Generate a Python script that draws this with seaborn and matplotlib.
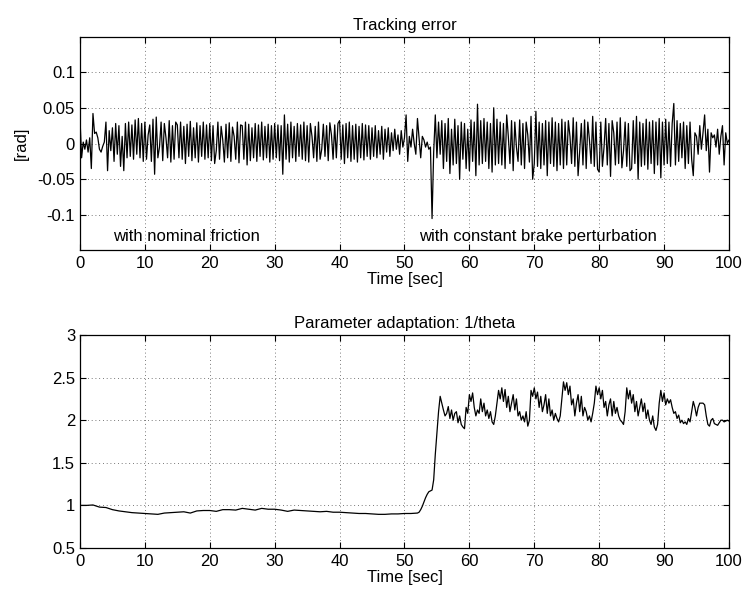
import numpy as np
import pandas as pd
import matplotlib
matplotlib.use("Agg")
import matplotlib.pyplot as plt
import seaborn as sns

# ---------------- data ----------------
# Tracking error, sampled every 0.25 s from 0 to 100 s, values in mrad
error_step = 0.25
error_mrad = [
    35, -20, 2, -8, 5, -12, 8, -35, 42, 14, 16, 8, -8, -12, -4, 2, 30, -38, 18, -10,
    22, -25, 28, -15, 25, -32, 10, -38, 28, -20, 30, -18, 26, -22, 33, -15, 35, -20, 28, -25,
    30, -22, 12, 26, -25, 34, -43, 37, -20, -5, 30, -24, 28, 8, -20, 32, -26, 25, -22, 30,
    26, -20, 30, -22, 24, -28, 27, -18, 31, -24, 22, -20, 29, -26, 25, -18, 30, -22, 26, -20,
    28, -24, 25, -28, -10, 30, -22, 24, 5, -26, 27, -20, 29, -25, 23, 10, -22, 30, -27, 26,
    25, -22, 30, -30, 27, -24, 22, -20, 28, -25, 26, -18, 30, -23, 24, -20, 27, -26, 25, -22,
    28, -20, 26, -24, 25, -43, 40, -22, 27, -26, 30, -20, 24, -25, 28, -18, 26, -22, 30, -24,
    25, -26, 28, 10, -20, 24, -25, 30, -22, -8, 27, -18, 25, -24, 29, 12, -22, 26, -20, 28,
    32, -22, 26, -28, 28, -20, 30, -25, 25, -22, 27, -26, 24, -20, 28, -23, 26, -18, 25, -22,
    22, -18, 25, -20, 18, -15, 24, -22, 20, -12, 22, -18, 15, -10, 20, -8, 12, -15, 18, -5,
    8, 40, -25, 10, -5, 20, 0, -15, 35, 8, -20, 10, 5, -5, 2, -8, -5, -105, -12, 40,
    -20, 30, -15, 32, -35, 28, -25, 35, -42, 20, -30, 34, -28, 25, -50, 30, -22, 28, -35, 20,
    -38, 33, -25, 30, -45, 55, -30, 32, -28, 35, -25, 30, -35, 28, -40, 50, -30, 34, -28, 30,
    -30, 28, -35, 40, 10, -28, 32, -38, 30, -5, -25, 33, -30, 28, -35, 30, 12, -26, 38, -50,
    -28, 45, -32, 30, -35, 28, -30, 32, -45, 30, -28, 36, -32, 30, -38, 28, -30, 34, -35, 30,
    -30, 32, 10, -28, 36, -32, 30, -45, -10, 28, -30, 33, -35, 30, 5, -28, 38, -32, 30, -36,
    -40, 30, -32, -5, 35, -30, 28, -46, 32, 15, -30, 30, -28, 36, -34, -10, 30, -32, 28, -38,
    -35, 32, -28, 38, -50, 30, -32, 28, -30, 34, -36, 30, -28, 32, -42, 30, -30, 35, -48, 30,
    -30, 34, -28, 30, -32, 28, 56, -30, 32, -25, 28, -20, 30, -35, 25, -28, 30, -22, -45, 15,
    10, -15, 25, -8, 15, 40, -10, 20, -40, 15, 8, 12, -5, 20, -15, 10, 25, -30, 15, 0,
    5,
]

# Parameter adaptation 1/theta: 1 s samples from 0 to 51 s ...
theta_slow = [
    1.00, 1.00, 1.005, 0.98, 0.975, 0.95, 0.935, 0.925, 0.915, 0.91,
    0.905, 0.90, 0.895, 0.91, 0.915, 0.92, 0.925, 0.91, 0.935, 0.94,
    0.94, 0.93, 0.95, 0.95, 0.945, 0.965, 0.955, 0.945, 0.965, 0.955,
    0.955, 0.945, 0.93, 0.945, 0.94, 0.935, 0.93, 0.925, 0.93, 0.92,
    0.92, 0.915, 0.91, 0.905, 0.905, 0.90, 0.895, 0.895, 0.90, 0.90,
    0.905, 0.905,
]
# ... then 0.25 s samples from 52 s to 100 s
theta_fast = [
    0.91, 0.92, 0.95, 0.99,
    1.04, 1.09, 1.13, 1.16,
    1.17, 1.18, 1.30, 1.60,
    1.85, 2.10, 2.28, 2.20,
    2.12, 2.05, 2.08, 2.16,
    2.02, 2.12, 2.00, 2.08,
    2.10, 1.97, 2.05, 1.95,
    1.92, 1.90, 2.15, 2.08,
    2.30, 2.22, 2.32, 2.15,
    2.05, 2.12, 2.08, 2.25,
    2.10, 2.20, 2.05, 2.12,
    2.02, 2.10, 1.98, 1.95,
    2.05, 2.20, 2.35, 2.25,
    2.38, 2.22, 2.36, 2.15,
    2.28, 2.10, 2.20, 2.30,
    2.12, 2.25, 2.05, 2.10,
    2.00, 2.05, 1.98, 2.10,
    1.93, 2.00, 2.35, 2.28,
    2.38, 2.25, 2.33, 2.15,
    2.28, 2.10, 2.18, 2.30,
    2.08, 2.25, 2.05, 2.12,
    2.00, 2.08, 2.02, 1.98,
    2.05, 2.25, 2.45, 2.35,
    2.44, 2.30, 2.40, 2.18,
    2.25, 2.05, 2.20, 2.30,
    2.10, 2.28, 2.05, 2.15,
    2.10, 2.00, 2.05, 1.98,
    2.08, 2.20, 2.40, 2.30,
    2.38, 2.25, 2.35, 2.15,
    2.22, 2.05, 2.18, 2.25,
    2.05, 2.22, 2.08, 2.15,
    2.05, 2.00, 1.98, 1.95,
    2.10, 2.38, 2.25, 2.35,
    2.20, 2.30, 2.10, 2.22,
    2.05, 2.15, 2.25, 2.10,
    2.20, 2.02, 2.12, 2.00,
    1.95, 2.05, 1.92, 1.88,
    1.95, 2.20, 2.35, 2.22,
    2.32, 2.18, 2.25, 2.20,
    2.24, 2.15, 2.08, 2.10,
    2.02, 2.06, 1.97, 2.00,
    1.96, 1.98, 1.95, 2.02,
    1.98, 2.10, 2.22, 2.15,
    2.05, 2.15, 2.20, 2.20,
    2.20, 2.18, 2.05, 1.95,
    1.93, 2.00, 2.02, 1.96,
    1.95, 1.94, 1.97, 2.00,
    2.00, 1.98, 1.99, 2.00,
    1.99,
]

x_ticks = [0, 10, 20, 30, 40, 50, 60, 70, 80, 90, 100]
top_yticks = [-0.1, -0.05, 0, 0.05, 0.1]
top_yticklabels = ["-0.1", "-0.05", "0", "0.05", "0.1"]
bot_yticks = [0.5, 1, 1.5, 2, 2.5, 3]
bot_yticklabels = ["0.5", "1", "1.5", "2", "2.5", "3"]

top_title = "Tracking error"
bot_title = "Parameter adaptation: 1/theta"
x_label = "Time [sec]"
top_ylabel = "[rad]"
note_left = "with nominal friction"
note_right = "with constant brake perturbation"

# ---------------- tables ----------------
err_df = pd.DataFrame({
    "t": np.arange(len(error_mrad)) * error_step,
    "e": np.array(error_mrad, dtype=float) * 1e-3,
})
theta_t = np.concatenate([np.arange(len(theta_slow)) * 1.0,
                          len(theta_slow) + np.arange(len(theta_fast)) * 0.25])
theta_df = pd.DataFrame({"t": theta_t, "v": theta_slow + theta_fast})

# ---------------- style ----------------
sns.set_theme(style="white")
plt.rcParams["font.family"] = ["Liberation Sans", "DejaVu Sans"]
plt.rcParams["font.size"] = 12
for key in ["text.color", "axes.labelcolor", "xtick.color", "ytick.color",
            "axes.edgecolor"]:
    plt.rcParams[key] = "black"

fig = plt.figure(figsize=(7.44, 5.95), dpi=100)
ax1 = fig.add_axes([0.1075, 0.5798, 0.8723, 0.358])
ax2 = fig.add_axes([0.1075, 0.0790, 0.8723, 0.358])


def style_axes(ax):
    for s in ax.spines.values():
        s.set_color("black")
        s.set_linewidth(0.9)
        s.set_visible(True)
    ax.tick_params(axis="both", direction="in", length=4, width=0.8,
                   colors="black", labelcolor="black", top=True, right=True,
                   labelsize=12, bottom=True, left=True)
    ax.tick_params(axis="x", pad=4)
    ax.tick_params(axis="y", pad=3.5)
    ax.grid(True, color="0.3", linestyle=(0, (1, 3.5)), linewidth=0.6)
    ax.set_axisbelow(True)
    ax.set_xlim(0, 100)
    ax.set_xticks(x_ticks)
    ax.set_xticklabels([str(v) for v in x_ticks])
    ax.set_xlabel(x_label, fontsize=12, labelpad=1, color="black")


sns.lineplot(data=err_df, x="t", y="e", ax=ax1, color="black",
             linewidth=0.9, estimator=None, sort=False)
style_axes(ax1)
ax1.set_ylim(-0.149, 0.149)
ax1.set_yticks(top_yticks)
ax1.set_yticklabels(top_yticklabels)
ax1.set_ylabel(top_ylabel, fontsize=12, labelpad=6, color="black")
ax1.set_title(top_title, fontsize=12, pad=5, color="black")
ax1.text(5.1, -0.136, note_left, fontsize=12, ha="left", va="baseline",
         color="black")
ax1.text(52.2, -0.136, note_right, fontsize=12, ha="left", va="baseline",
         color="black")

sns.lineplot(data=theta_df, x="t", y="v", ax=ax2, color="black",
             linewidth=0.9, estimator=None, sort=False)
style_axes(ax2)
ax2.set_ylim(0.5, 3)
ax2.set_yticks(bot_yticks)
ax2.set_yticklabels(bot_yticklabels)
ax2.set_ylabel("")
ax2.set_title(bot_title, fontsize=12, pad=5, color="black")

fig.savefig("out.png", dpi=100, facecolor="white")
